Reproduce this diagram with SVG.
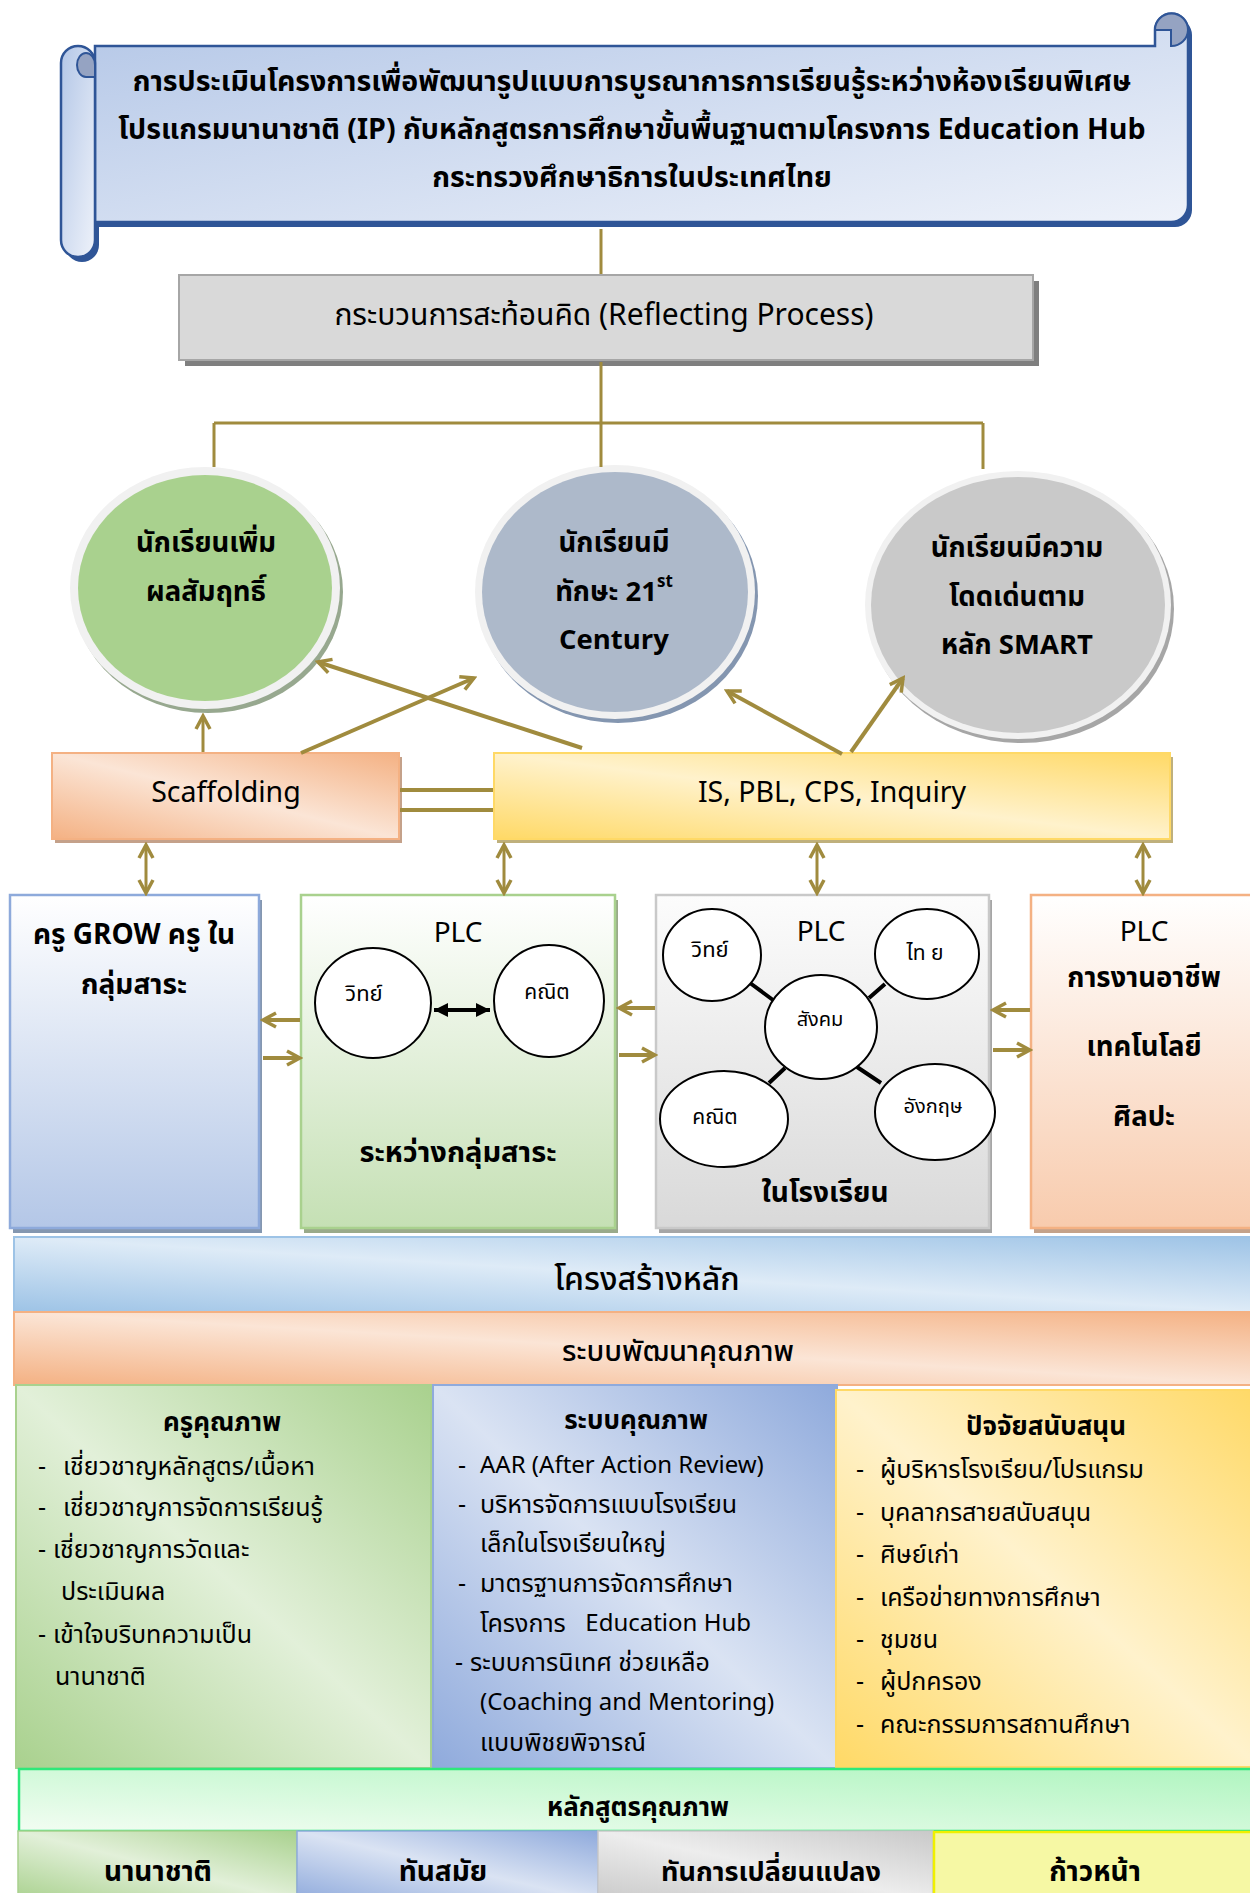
<svg xmlns="http://www.w3.org/2000/svg" width="1250" height="1893" viewBox="0 0 1250 1893">
<style>
text{font-family:"Noto Sans Thai","Noto Sans","Open Sans",sans-serif;fill:#000;text-anchor:middle;dominant-baseline:central}
.b{font-weight:bold}
.l{text-anchor:start}
.it{font-size:25px;text-anchor:start}
.la{font-size:24px}
.pre{white-space:pre}
.ol{stroke:#a08b3e;stroke-width:4;fill:none}
.ol3{stroke:#a08b3e;stroke-width:3;fill:none}
.blk{stroke:#000;stroke-width:4}
.sc{fill:#fff;stroke:#000;stroke-width:2}
</style>
<defs>
<linearGradient id="gScroll" x1="0" y1="0" x2="1" y2="1"><stop offset="0" stop-color="#b4c7e7"/><stop offset="1" stop-color="#eef2fa"/></linearGradient>
<linearGradient id="gOr" x1="1" y1="0" x2="0" y2="1"><stop offset="0" stop-color="#f4b183"/><stop offset="0.5" stop-color="#fbe5d6"/><stop offset="1" stop-color="#f4b183"/></linearGradient>
<linearGradient id="gYe" x1="1" y1="0" x2="0" y2="1"><stop offset="0" stop-color="#ffd966"/><stop offset="0.5" stop-color="#fff2cc"/><stop offset="1" stop-color="#ffd966"/></linearGradient>
<linearGradient id="gGr" x1="1" y1="0" x2="0" y2="1"><stop offset="0" stop-color="#a9d18e"/><stop offset="0.5" stop-color="#e2f0d9"/><stop offset="1" stop-color="#a9d18e"/></linearGradient>
<linearGradient id="gBl" x1="1" y1="0" x2="0" y2="1"><stop offset="0" stop-color="#8faadc"/><stop offset="0.5" stop-color="#dae3f3"/><stop offset="1" stop-color="#8faadc"/></linearGradient>
<linearGradient id="gGy" x1="1" y1="0" x2="0" y2="1"><stop offset="0" stop-color="#c9c9c9"/><stop offset="0.5" stop-color="#ededed"/><stop offset="1" stop-color="#c9c9c9"/></linearGradient>
<linearGradient id="gSky" x1="1" y1="0" x2="0" y2="1"><stop offset="0" stop-color="#9dc3e6"/><stop offset="0.5" stop-color="#deebf7"/><stop offset="1" stop-color="#9dc3e6"/></linearGradient>
<linearGradient id="gMint" x1="1" y1="0" x2="0" y2="1"><stop offset="0" stop-color="#b0f5c0"/><stop offset="1" stop-color="#f2fdf2"/></linearGradient>
<linearGradient id="vBl" x1="0" y1="0" x2="0" y2="1"><stop offset="0" stop-color="#ffffff"/><stop offset="1" stop-color="#b4c7e7"/></linearGradient>
<linearGradient id="vGr" x1="0" y1="0" x2="0" y2="1"><stop offset="0" stop-color="#ffffff"/><stop offset="1" stop-color="#c5e0b4"/></linearGradient>
<linearGradient id="vGy" x1="0" y1="0" x2="0" y2="1"><stop offset="0" stop-color="#fcfcfc"/><stop offset="1" stop-color="#d9d9d9"/></linearGradient>
<linearGradient id="vOr" x1="0" y1="0" x2="0" y2="1"><stop offset="0" stop-color="#ffffff"/><stop offset="1" stop-color="#f8cbad"/></linearGradient>
<marker id="oa" markerUnits="userSpaceOnUse" markerWidth="20" markerHeight="20" viewBox="0 0 20 20" refX="17" refY="10" orient="auto-start-reverse"><path d="M4,3 L17,10 L4,17" fill="none" stroke="#a08b3e" stroke-width="3.5"/></marker>
<marker id="ba" markerUnits="userSpaceOnUse" markerWidth="16" markerHeight="16" viewBox="0 0 16 16" refX="15" refY="8" orient="auto-start-reverse"><path d="M1,1 L15,8 L1,15 Z" fill="#000"/></marker>
</defs>

<g id="title">
<g transform="translate(4,5)" fill="#2f5597">
<path d="M95,46 H1155 V30 A16.5,16.5 0 0 1 1188,30 V205 A17,17 0 0 1 1171,222 H95 Z"/>
<rect x="61" y="46" width="34" height="211" rx="17"/>
</g>
<path d="M95,46 H1155 V30 A16.5,16.5 0 0 1 1188,30 V205 A17,17 0 0 1 1171,222 H95 Z" fill="url(#gScroll)" stroke="#2f5597" stroke-width="2.5"/>
<path d="M1155,30 A16.5,16.5 0 0 1 1188,30 A16.5,16.5 0 0 1 1171,46 V30 Z" fill="#95a3c2" stroke="#2f5597" stroke-width="2"/>
<rect x="61" y="46" width="34" height="211" rx="17" fill="url(#gScroll)" stroke="#2f5597" stroke-width="2.5"/>
<path d="M95,65 A9,12 0 0 0 77,65 A9,12 0 0 0 86,77 L95,77 Z" fill="#95a3c2" stroke="#2f5597" stroke-width="2"/>
<text class="b" font-size="28.5" x="632" y="82">การประเมินโครงการเพื่อพัฒนารูปแบบการบูรณาการการเรียนรู้ระหว่างห้องเรียนพิเศษ</text>
<text class="b" font-size="28.5" x="632" y="130">โปรแกรมนานาชาติ (IP) กับหลักสูตรการศึกษาขั้นพื้นฐานตามโครงการ Education Hub</text>
<text class="b" font-size="28.5" x="632" y="178">กระทรวงศึกษาธิการในประเทศไทย</text>
</g>

<g id="reflect">
<rect x="185" y="281" width="854" height="85" fill="#7f7f7f"/>
<rect x="179" y="275" width="854" height="85" fill="#d9d9d9" stroke="#a6a6a6" stroke-width="2"/>
<text font-size="30" x="604" y="316">กระบวนการสะท้อนคิด (Reflecting Process)</text>
</g>

<g id="e-green">
<ellipse cx="208" cy="592" rx="135" ry="121" fill="#97a88f"/>
<ellipse cx="205" cy="588" rx="135" ry="121" fill="#f1f1f1"/>
<ellipse cx="205" cy="588" rx="127" ry="113" fill="#a9d18e"/>
<text class="b" font-size="27.5" x="206" y="543">นักเรียนเพิ่ม</text>
<text class="b" font-size="27.5" x="206" y="592">ผลสัมฤทธิ์</text>
</g>
<g id="e-blue">
<ellipse cx="618" cy="596" rx="140" ry="127" fill="#8496b0"/>
<ellipse cx="615" cy="592" rx="140" ry="127" fill="#f1f1f1"/>
<ellipse cx="615" cy="592" rx="133" ry="120" fill="#adb9ca"/>
<text class="b" font-size="27.5" x="614" y="543">นักเรียนมี</text>
<text class="b" font-size="27.5" x="614" y="592">ทักษะ 21<tspan font-size="17" dy="-10">st</tspan></text>
<text class="b" font-size="27.5" x="614" y="640">Century</text>
</g>
<g id="e-gray">
<ellipse cx="1021" cy="609" rx="153" ry="134" fill="#a6a6a6"/>
<ellipse cx="1018" cy="605" rx="153" ry="134" fill="#f1f1f1"/>
<ellipse cx="1018" cy="605" rx="147" ry="128" fill="#c9c9c9"/>
<text class="b" font-size="27.5" x="1017" y="548">นักเรียนมีความ</text>
<text class="b" font-size="27.5" x="1017" y="597">โดดเด่นตาม</text>
<text class="b" font-size="27.5" x="1017" y="645">หลัก SMART</text>
</g>

<g id="scaffolding">
<rect x="55" y="757" width="347" height="86" fill="#c4a18a"/>
<rect x="52" y="753" width="347" height="86" fill="url(#gOr)" stroke="#f4b183" stroke-width="2"/>
<text font-size="28.5" x="226" y="793">Scaffolding</text>
</g>
<g id="methods">
<rect x="497" y="757" width="676" height="86" fill="#bfb07c"/>
<rect x="494" y="753" width="676" height="86" fill="url(#gYe)" stroke="#ffd966" stroke-width="2"/>
<text font-size="28.5" x="832" y="793">IS, PBL, CPS, Inquiry</text>
</g>

<g id="col-grow">
<rect x="13" y="900" width="249" height="333" fill="#8497b0"/>
<rect x="10" y="895" width="249" height="333" fill="url(#vBl)" stroke="#8eaadb" stroke-width="2.5"/>
<text class="b" font-size="28" x="134" y="935">ครู GROW ครู ใน</text>
<text class="b" font-size="28" x="134" y="985">กลุ่มสาระ</text>
</g>

<g id="col-plc1">
<rect x="304" y="900" width="314" height="333" fill="#9aaa8a"/>
<rect x="301" y="895" width="314" height="333" fill="url(#vGr)" stroke="#a9d18e" stroke-width="2.5"/>
<text font-size="28" x="458" y="933">PLC</text>
<ellipse class="sc" cx="373" cy="1003" rx="58" ry="55"/>
<ellipse class="sc" cx="549" cy="1001" rx="55" ry="56"/>
<text font-size="22" x="364" y="994">วิทย์</text>
<text font-size="21" x="547" y="992">คณิต</text>
<path class="blk" d="M434,1010 H490" stroke-width="3" marker-start="url(#ba)" marker-end="url(#ba)"/>
<text class="b" font-size="29" x="458" y="1153">ระหว่างกลุ่มสาระ</text>
</g>

<g id="col-plc2">
<rect x="659" y="900" width="333" height="333" fill="#a6a6a6"/>
<rect x="656" y="895" width="333" height="333" fill="url(#vGy)" stroke="#c9c9c9" stroke-width="2.5"/>
<text font-size="28" x="821" y="932">PLC</text>
<path class="blk" d="M750,983 L773,1000 M885,984 L869,998 M769,1083 L785,1068 M857,1067 L881,1083"/>
<ellipse class="sc" cx="712" cy="955" rx="49" ry="46"/>
<ellipse class="sc" cx="927" cy="954" rx="52" ry="45"/>
<ellipse class="sc" cx="821" cy="1027" rx="56" ry="52"/>
<ellipse class="sc" cx="724" cy="1119" rx="64" ry="48"/>
<ellipse class="sc" cx="935" cy="1112" rx="60" ry="48"/>
<text font-size="22" x="710" y="950">วิทย์</text>
<text font-size="21" x="925" y="953">ไท ย</text>
<text font-size="20" x="820" y="1020">สังคม</text>
<text font-size="21" x="715" y="1117">คณิต</text>
<text font-size="20" x="933" y="1107">อังกฤษ</text>
<text class="b" font-size="28" x="825" y="1193">ในโรงเรียน</text>
</g>

<g id="col-plc3">
<rect x="1034" y="900" width="230" height="333" fill="#c4a28a"/>
<rect x="1031" y="895" width="230" height="333" fill="url(#vOr)" stroke="#f4b183" stroke-width="2.5"/>
<text font-size="28" x="1144" y="932">PLC</text>
<text class="b" font-size="27.5" x="1144" y="978">การงานอาชีพ</text>
<text class="b" font-size="27.5" x="1144" y="1047">เทคโนโลยี</text>
<text class="b" font-size="27.5" x="1144" y="1117">ศิลปะ</text>
</g>

<g id="band-structure">
<rect x="14" y="1237" width="1246" height="75" fill="url(#gSky)" stroke="#9dc3e6" stroke-width="2"/>
<text font-size="32" font-weight="500" x="647" y="1280">โครงสร้างหลัก</text>
</g>
<g id="band-quality">
<rect x="14" y="1312" width="1246" height="73" fill="url(#gOr)" stroke="#f4b183" stroke-width="2"/>
<text font-size="29" font-weight="500" x="678" y="1352">ระบบพัฒนาคุณภาพ</text>
</g>

<g id="teacher">
<rect x="16" y="1385" width="415" height="383" fill="url(#gGr)" stroke="#a9d18e" stroke-width="2"/>
<text class="b" font-size="26" x="222" y="1423">ครูคุณภาพ</text>
<text class="it" x="38" y="1467">-</text><text class="it" x="63" y="1467">เชี่ยวชาญหลักสูตร/เนื้อหา</text>
<text class="it" x="38" y="1508">-</text><text class="it" x="63" y="1508">เชี่ยวชาญการจัดการเรียนรู้</text>
<text class="it" x="38" y="1550">-</text><text class="it" x="53" y="1550">เชี่ยวชาญการวัดและ</text>
<text class="it" x="61" y="1592">ประเมินผล</text>
<text class="it" x="38" y="1635">-</text><text class="it" x="53" y="1635">เข้าใจบริบทความเป็น</text>
<text class="it" x="55" y="1677">นานาชาติ</text>
</g>

<g id="system">
<rect x="433" y="1385" width="404" height="383" fill="url(#gBl)" stroke="#8faadc" stroke-width="2"/>
<text class="b" font-size="26" x="636" y="1421">ระบบคุณภาพ</text>
<text class="it" x="458" y="1466">-</text><text class="it la" x="480" y="1466">AAR (After Action Review)</text>
<text class="it" x="458" y="1505">-</text><text class="it" x="480" y="1505">บริหารจัดการแบบโรงเรียน</text>
<text class="it" x="480" y="1544">เล็กในโรงเรียนใหญ่</text>
<text class="it" x="458" y="1584">-</text><text class="it" x="480" y="1584">มาตรฐานการจัดการศึกษา</text>
<text class="it pre" x="480" y="1624">โครงการ   <tspan class="la">Education Hub</tspan></text>
<text class="it" x="455" y="1663">-</text><text class="it" x="470" y="1663">ระบบการนิเทศ ช่วยเหลือ</text>
<text class="it la" x="480" y="1703">(Coaching and Mentoring)</text>
<text class="it" x="480" y="1743">แบบพิชยพิจารณ์</text>
</g>

<g id="support">
<rect x="836" y="1390" width="424" height="377" fill="url(#gYe)" stroke="#ffd966" stroke-width="2"/>
<text class="b" font-size="26" x="1046" y="1427">ปัจจัยสนับสนุน</text>
<text class="it" x="856" y="1470">-</text><text class="it" x="880" y="1470">ผู้บริหารโรงเรียน/โปรแกรม</text>
<text class="it" x="856" y="1513">-</text><text class="it" x="880" y="1513">บุคลากรสายสนับสนุน</text>
<text class="it" x="856" y="1555">-</text><text class="it" x="880" y="1555">ศิษย์เก่า</text>
<text class="it" x="856" y="1598">-</text><text class="it" x="880" y="1598">เครือข่ายทางการศึกษา</text>
<text class="it" x="856" y="1640">-</text><text class="it" x="880" y="1640">ชุมชน</text>
<text class="it" x="856" y="1682">-</text><text class="it" x="880" y="1682">ผู้ปกครอง</text>
<text class="it" x="856" y="1725">-</text><text class="it" x="880" y="1725">คณะกรรมการสถานศึกษา</text>
</g>

<g id="curriculum">
<rect x="19" y="1769" width="1241" height="62" fill="url(#gMint)" stroke="#2ee87a" stroke-width="2.5"/>
<text class="b" font-size="26" x="638" y="1808">หลักสูตรคุณภาพ</text>
</g>
<g id="c-inter">
<rect x="18" y="1831" width="279" height="70" fill="url(#gGr)" stroke="#a9d18e" stroke-width="1.5"/>
<text class="b" font-size="28" x="158" y="1872">นานาชาติ</text>
</g>
<g id="c-modern">
<rect x="297" y="1831" width="301" height="70" fill="url(#gBl)" stroke="#8faadc" stroke-width="1.5"/>
<text class="b" font-size="28" x="443" y="1872">ทันสมัย</text>
</g>
<g id="c-change">
<rect x="598" y="1831" width="335" height="70" fill="url(#gGy)" stroke="#c9c9c9" stroke-width="1.5"/>
<text class="b" font-size="27" x="771" y="1872">ทันการเปลี่ยนแปลง</text>
</g>
<g id="c-advance">
<rect x="934" y="1832" width="330" height="70" fill="#f6f8a4" stroke="#f0f000" stroke-width="2.5"/>
<text class="b" font-size="28" x="1095" y="1872">ก้าวหน้า</text>
</g>

<g id="connectors">
<path class="ol3" d="M601,229 V274"/>
<path class="ol3" d="M601,362 V423 M214,423 H983 M214,423 V467 M601,423 V467 M983,423 V469"/>
<path class="ol" d="M400,790 H493 M400,810 H493"/>
<path class="ol3" d="M203,752 V716" marker-end="url(#oa)"/>
<path class="ol" d="M301,753 L474,678" marker-end="url(#oa)"/>
<path class="ol" d="M582,748 L318,662" marker-end="url(#oa)"/>
<path class="ol" d="M842,754 L727,691" marker-end="url(#oa)"/>
<path class="ol" d="M851,752 L903,678" marker-end="url(#oa)"/>
<path class="ol3" d="M146,845 V893" marker-start="url(#oa)" marker-end="url(#oa)"/>
<path class="ol3" d="M504,845 V893" marker-start="url(#oa)" marker-end="url(#oa)"/>
<path class="ol3" d="M817,845 V893" marker-start="url(#oa)" marker-end="url(#oa)"/>
<path class="ol3" d="M1143,845 V893" marker-start="url(#oa)" marker-end="url(#oa)"/>
<path class="ol" d="M300,1020 H263" marker-end="url(#oa)"/>
<path class="ol" d="M263,1058 H300" marker-end="url(#oa)"/>
<path class="ol" d="M655,1008 H619" marker-end="url(#oa)"/>
<path class="ol" d="M619,1055 H655" marker-end="url(#oa)"/>
<path class="ol" d="M1030,1010 H993" marker-end="url(#oa)"/>
<path class="ol" d="M993,1050 H1030" marker-end="url(#oa)"/>
</g>
</svg>
